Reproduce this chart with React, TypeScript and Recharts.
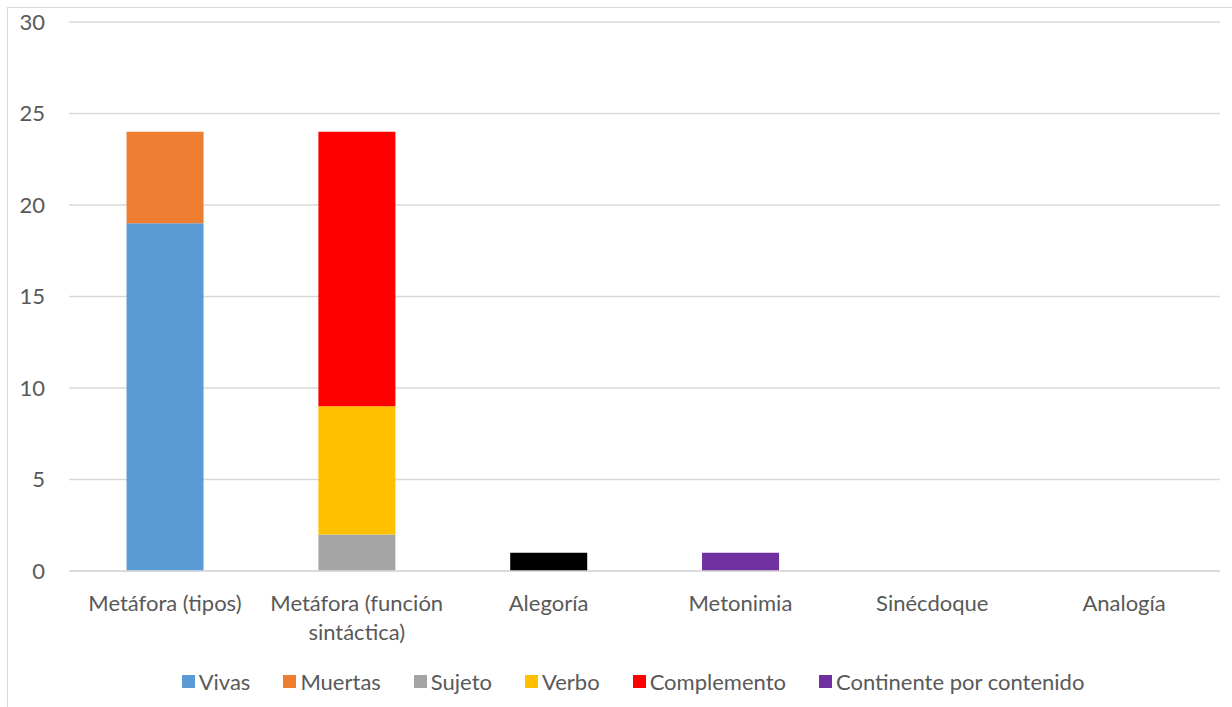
import React from 'react';
import { BarChart, Bar, XAxis, YAxis, CartesianGrid, Legend } from 'recharts';

const categories = [
  'Metáfora (tipos)',
  'Metáfora (función sintáctica)',
  'Alegoría',
  'Metonimia',
  'Sinécdoque',
  'Analogía',
];

const vivas = [19, 0, 0, 0, 0, 0];
const muertas = [5, 0, 0, 0, 0, 0];
const sujeto = [0, 2, 0, 0, 0, 0];
const verbo = [0, 7, 0, 0, 0, 0];
const complemento = [0, 15, 0, 0, 0, 0];
const alegoria = [0, 0, 1, 0, 0, 0];
const continente = [0, 0, 0, 1, 0, 0];

const yTicks = [0, 5, 10, 15, 20, 25, 30];

const series = [
  { key: 'vivas', name: 'Vivas', color: '#5B9BD5', values: vivas, legend: true },
  { key: 'muertas', name: 'Muertas', color: '#ED7D31', values: muertas, legend: true },
  { key: 'sujeto', name: 'Sujeto', color: '#A5A5A5', values: sujeto, legend: true },
  { key: 'verbo', name: 'Verbo', color: '#FFC000', values: verbo, legend: true },
  { key: 'complemento', name: 'Complemento', color: '#FF0000', values: complemento, legend: true },
  { key: 'alegoria', name: 'Alegoría', color: '#000000', values: alegoria, legend: false },
  { key: 'continente', name: 'Continente por contenido', color: '#7030A0', values: continente, legend: true },
];

const data = categories.map((name, i) => {
  const row: Record<string, any> = { name };
  series.forEach((s) => {
    row[s.key] = s.values[i] || null;
  });
  return row;
});

const FONT = 'Lato, "Open Sans", sans-serif';
const FONT_SIZE = 22;
const TEXT_COLOR = '#595959';
const GRID = '#D9D9D9';

// wrap a label into lines that fit in maxWidth
let ctx: CanvasRenderingContext2D | null = null;
const wrap = (label: string, maxWidth: number) => {
  if (!ctx) ctx = document.createElement('canvas').getContext('2d');
  if (!ctx) return [label];
  ctx.font = `${FONT_SIZE}px ${FONT}`;
  const words = label.split(' ');
  const lines: string[] = [];
  let cur = '';
  words.forEach((w) => {
    const test = cur ? cur + ' ' + w : w;
    if (cur && ctx!.measureText(test).width > maxWidth) {
      lines.push(cur);
      cur = w;
    } else {
      cur = test;
    }
  });
  if (cur) lines.push(cur);
  return lines;
};

const CategoryTick = (props: any) => {
  const { x, y, payload } = props;
  const lines = wrap(payload.value, 186);
  return (
    <text
      x={x}
      y={y + 32}
      textAnchor="middle"
      fill={TEXT_COLOR}
      fontSize={FONT_SIZE}
      fontFamily={FONT}
    >
      {lines.map((l, i) => (
        <tspan key={i} x={x} dy={i === 0 ? 0 : 29}>
          {l}
        </tspan>
      ))}
    </text>
  );
};

const renderLegend = () => (
  <div
    style={{
      display: 'flex',
      justifyContent: 'center',
      alignItems: 'center',
      fontFamily: FONT,
      fontSize: FONT_SIZE,
      color: TEXT_COLOR,
      gap: 33,
      paddingLeft: 22,
    }}
  >
    {series
      .filter((s) => s.legend)
      .map((s) => (
        <div key={s.key} style={{ display: 'flex', alignItems: 'center' }}>
          <span
            style={{
              display: 'inline-block',
              width: 13,
              height: 13,
              background: s.color,
              marginRight: 4,
            }}
          />
          <span>{s.name}</span>
        </div>
      ))}
  </div>
);

export default function App() {
  return (
    <div
      style={{
        position: 'absolute',
        left: 7,
        top: 7,
        width: 1224,
        height: 699,
        borderLeft: '1px solid #D9D9D9',
        borderTop: '1px solid #D9D9D9',
        background: '#fff',
      }}
    >
      <BarChart
        width={1224}
        height={699}
        data={data}
        margin={{ top: 14, right: 12, bottom: 0, left: 16 }}
        barCategoryGap="30%"
      >
        <CartesianGrid vertical={false} stroke={GRID} strokeWidth={1.5} />
        <XAxis
          dataKey="name"
          height={97}
          interval={0}
          axisLine={{ stroke: GRID, strokeWidth: 1.5 }}
          tickLine={false}
          tick={<CategoryTick />}
        />
        <YAxis
          width={45}
          domain={[0, 30]}
          ticks={yTicks}
          axisLine={false}
          tickLine={false}
          tickSize={0}
          tickMargin={24}
          tick={{ fill: TEXT_COLOR, fontSize: FONT_SIZE, fontFamily: FONT }}
        />
        <Legend verticalAlign="bottom" height={39} content={renderLegend} />
        {series.map((s) => (
          <Bar
            key={s.key}
            dataKey={s.key}
            name={s.name}
            stackId="a"
            fill={s.color}
            isAnimationActive={false}
          />
        ))}
      </BarChart>
    </div>
  );
}
